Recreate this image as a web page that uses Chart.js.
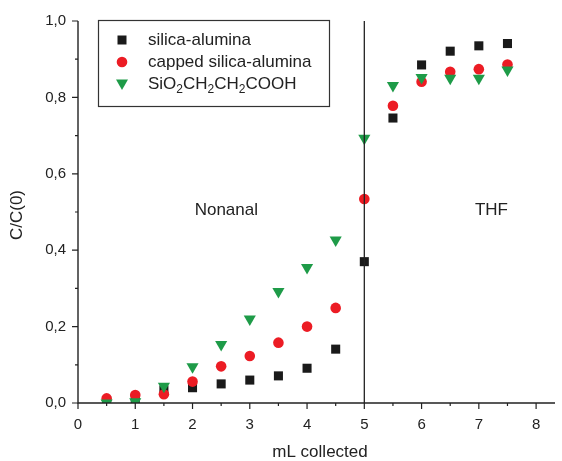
<!DOCTYPE html>
<html lang="en">
<head>
    <meta charset="UTF-8">
    <title>C/C(0) vs mL collected</title>
    <script src="https://cdn.jsdelivr.net/npm/chart.js"></script>
    <style>
        html, body { margin: 0; padding: 0; background: #fff; }
        #wrap { width: 562px; height: 461px; position: relative; }
    </style>
</head>
<body>
    <div id="wrap"><canvas id="myChart"></canvas></div>

    <script>
        // volumes collected (mL)
        const volumes = [0.5, 1, 1.5, 2, 2.5, 3, 3.5, 4, 4.5, 5, 5.5, 6, 6.5, 7, 7.5];

        const silica_alumina = [0.005, 0.01, 0.034, 0.04, 0.05, 0.06, 0.071, 0.091, 0.141, 0.37, 0.746, 0.885, 0.921, 0.935, 0.941];
        const capped_silica = [0.012, 0.021, 0.023, 0.056, 0.096, 0.123, 0.158, 0.2, 0.249, 0.534, 0.778, 0.841, 0.867, 0.874, 0.886];
        const sio2_cooh = [0.0, 0.003, 0.044, 0.095, 0.153, 0.22, 0.292, 0.355, 0.427, 0.693, 0.831, 0.852, 0.85, 0.85, 0.872];

        const series_names = ['silica-alumina', 'capped silica-alumina', 'SiO2CH2CH2COOH'];
        const x_ticks = [0, 1, 2, 3, 4, 5, 6, 7, 8];
        const y_ticks = [0, 0.2, 0.4, 0.6, 0.8, 1.0];
        const regions = [{ label: 'Nonanal', x: 2.59, y: 0.504 }, { label: 'THF', x: 7.22, y: 0.504 }];
        const split_at = 5;

        const FONT = '"Liberation Sans", Arial, sans-serif';
        const INK = '#222';
        const colors = ['#1a1a1a', '#ec1c24', '#1e9b48'];
        const styles = ['rect', 'circle', 'triangle'];

        const toPoints = arr => volumes.map((v, i) => ({ x: v, y: arr[i] }));

        function marker(ctx, style, x, y, color) {
            ctx.save();
            ctx.fillStyle = color;
            ctx.beginPath();
            if (style === 'rect') {
                ctx.rect(x - 4.5, y - 4.5, 9, 9);
            } else if (style === 'circle') {
                ctx.arc(x, y, 5.3, 0, Math.PI * 2);
            } else {
                ctx.moveTo(x - 6, y - 3.5);
                ctx.lineTo(x + 6, y - 3.5);
                ctx.lineTo(x, y + 7);
                ctx.closePath();
            }
            ctx.fill();
            ctx.restore();
        }

        // axes, ticks, divider, labels, legend
        const decor = {
            id: 'decor',
            afterDraw(chart) {
                const ctx = chart.ctx;
                const a = chart.chartArea;
                const xs = chart.scales.x, ys = chart.scales.y;
                ctx.save();
                ctx.strokeStyle = INK;
                ctx.lineWidth = 1.4;
                ctx.beginPath();
                ctx.moveTo(a.left, a.top);
                ctx.lineTo(a.left, a.bottom);
                ctx.lineTo(a.right, a.bottom);
                ctx.stroke();

                // tick marks
                ctx.lineWidth = 1.2;
                ctx.beginPath();
                for (let v = 0; v <= 8.001; v += 0.5) {
                    const px = xs.getPixelForValue(v);
                    const len = Math.abs(v - Math.round(v)) < 1e-6 ? 6 : 3;
                    ctx.moveTo(px, a.bottom);
                    ctx.lineTo(px, a.bottom + len);
                }
                for (let i = 0; i <= 10; i++) {
                    const py = ys.getPixelForValue(i / 10);
                    const len = i % 2 === 0 ? 6 : 3;
                    ctx.moveTo(a.left, py);
                    ctx.lineTo(a.left - len, py);
                }
                ctx.stroke();

                // divider between solvents
                ctx.lineWidth = 1.3;
                ctx.beginPath();
                const dx = xs.getPixelForValue(split_at);
                ctx.moveTo(dx, a.top);
                ctx.lineTo(dx, a.bottom);
                ctx.stroke();

                ctx.fillStyle = INK;
                ctx.textAlign = 'center';
                ctx.textBaseline = 'middle';
                ctx.font = '17px ' + FONT;
                regions.forEach(r => {
                    ctx.fillText(r.label, xs.getPixelForValue(r.x), ys.getPixelForValue(r.y));
                });

                // axis titles
                ctx.font = '17px ' + FONT;
                ctx.fillText('mL collected', 320, 452);
                ctx.save();
                ctx.translate(17, 215);
                ctx.rotate(-Math.PI / 2);
                ctx.fillText('C/C(0)', 0, 0);
                ctx.restore();

                // legend box
                ctx.lineWidth = 1.2;
                ctx.strokeStyle = '#333';
                ctx.strokeRect(98.5, 20.5, 231, 86);
                const rows = [40, 62, 84];
                ctx.textAlign = 'left';
                series_names.forEach((name, i) => {
                    marker(ctx, styles[i], 122, rows[i] + (i === 2 ? -1 : 0), colors[i]);
                    ctx.fillStyle = INK;
                    let x = 148;
                    // digits in the formula are subscripts
                    const parts = name.match(/[^0-9]+|[0-9]+/g);
                    parts.forEach(p => {
                        const sub = /^[0-9]+$/.test(p) && i === 2;
                        ctx.font = (sub ? '12px ' : '17px ') + FONT;
                        ctx.fillText(p, x, rows[i] + (sub ? 6 : 0));
                        x += ctx.measureText(p).width;
                    });
                });
                ctx.restore();
            }
        };

        const ctx = document.getElementById('myChart').getContext('2d');
        new Chart(ctx, {
            type: 'scatter',
            data: {
                datasets: [
                    {
                        label: series_names[0],
                        data: toPoints(silica_alumina),
                        pointStyle: 'rect',
                        pointRadius: 6.4,
                        backgroundColor: colors[0],
                        borderWidth: 0,
                        order: 3
                    },
                    {
                        label: series_names[1],
                        data: toPoints(capped_silica),
                        pointStyle: 'circle',
                        pointRadius: 5.3,
                        backgroundColor: colors[1],
                        borderWidth: 0,
                        order: 2
                    },
                    {
                        label: series_names[2],
                        data: toPoints(sio2_cooh),
                        pointStyle: 'triangle',
                        pointRotation: 180,
                        pointRadius: 7,
                        backgroundColor: colors[2],
                        borderWidth: 0,
                        order: 1
                    }
                ]
            },
            options: {
                responsive: true,
                maintainAspectRatio: false,
                animation: false,
                layout: { padding: { top: 19, right: 1, left: 0, bottom: 0 } },
                plugins: { legend: { display: false }, tooltip: { enabled: false } },
                scales: {
                    x: {
                        type: 'linear',
                        min: 0,
                        max: 8.33,
                        afterFit(scale) { scale.height = 58; },
                        afterBuildTicks(scale) { scale.ticks = x_ticks.map(v => ({ value: v })); },
                        grid: { display: false, drawTicks: false },
                        border: { display: false },
                        ticks: {
                            autoSkip: false,
                            maxRotation: 0,
                            padding: 13,
                            color: INK,
                            font: { family: FONT, size: 15 },
                            callback: v => String(v)
                        }
                    },
                    y: {
                        min: 0,
                        max: 1,
                        afterFit(scale) { scale.width = 78; },
                        afterBuildTicks(scale) { scale.ticks = y_ticks.map(v => ({ value: v })); },
                        grid: { display: false, drawTicks: false },
                        border: { display: false },
                        ticks: {
                            autoSkip: false,
                            padding: 12,
                            color: INK,
                            font: { family: FONT, size: 15 },
                            callback: v => v.toFixed(1).replace('.', ',')
                        }
                    }
                }
            },
            plugins: [decor]
        });
    </script>
</body>
</html>
